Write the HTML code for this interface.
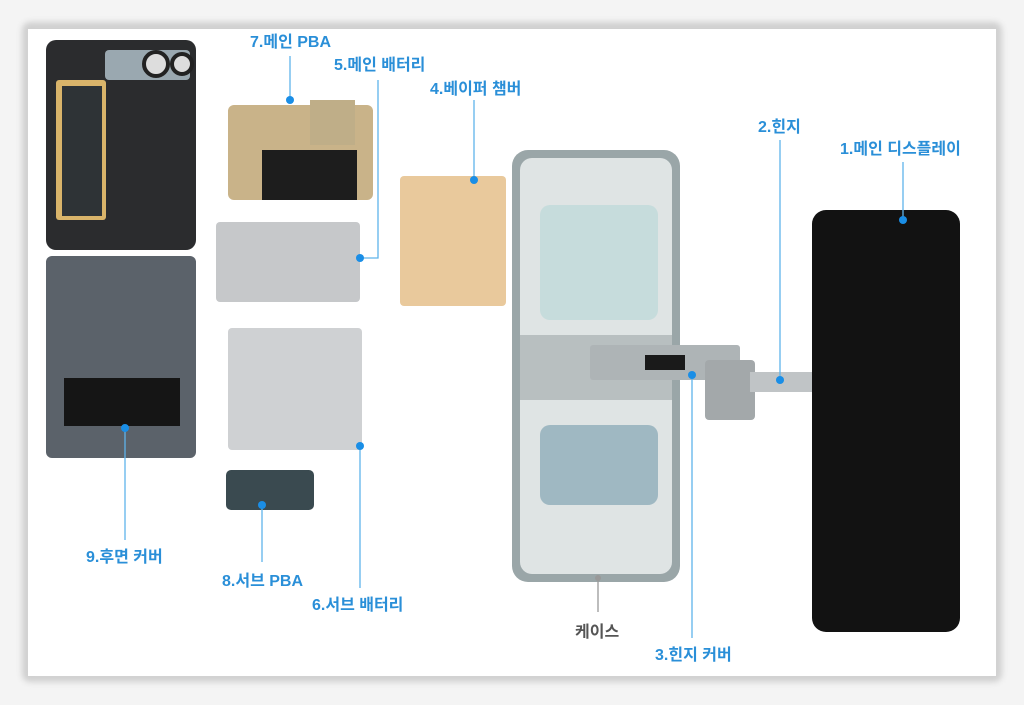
<!DOCTYPE html>
<html><head><meta charset="utf-8"><style>
body{margin:0;width:1024px;height:705px;background:#f4f4f4;position:relative;overflow:hidden;font-family:"Liberation Sans","Noto Sans CJK KR",sans-serif}
.frame{position:absolute;left:22px;top:22px;width:980px;height:660px;background:#d0d0d0;border-radius:8px;filter:blur(3px)}
.img{position:absolute;left:28px;top:29px;width:968px;height:647px;background:#fff}
.a{position:absolute}
.l{position:absolute;color:#2a8fd8;font-size:16px;font-weight:bold;white-space:nowrap;letter-spacing:0}
</style></head><body>
<div class="frame"></div>
<div class="img"></div>
<div class="a" style="left:46px;top:40px;width:150px;height:210px;background:#2b2c2e;border-radius:10px"></div>
<div class="a" style="left:56px;top:80px;width:50px;height:140px;background:#d9b46a;border-radius:3px"></div>
<div class="a" style="left:62px;top:86px;width:40px;height:130px;background:#2e3336"></div>
<div class="a" style="left:105px;top:50px;width:85px;height:30px;background:#9aa8b0;border-radius:4px"></div>
<div class="a" style="left:142px;top:50px;width:20px;height:20px;border:4px solid #222;border-radius:50%;background:#ddd"></div>
<div class="a" style="left:170px;top:52px;width:16px;height:16px;border:4px solid #222;border-radius:50%;background:#ddd"></div>
<div class="a" style="left:46px;top:256px;width:150px;height:202px;background:#5b626a;border-radius:6px"></div>
<div class="a" style="left:64px;top:378px;width:116px;height:48px;background:#151515"></div>
<div class="a" style="left:228px;top:105px;width:145px;height:95px;background:#c9b389;border-radius:6px"></div>
<div class="a" style="left:262px;top:150px;width:95px;height:50px;background:#1d1d1d"></div>
<div class="a" style="left:310px;top:100px;width:45px;height:45px;background:#bfae88"></div>
<div class="a" style="left:216px;top:222px;width:144px;height:80px;background:#c6c8ca;border-radius:4px"></div>
<div class="a" style="left:228px;top:328px;width:134px;height:122px;background:#cfd1d3;border-radius:4px"></div>
<div class="a" style="left:226px;top:470px;width:88px;height:40px;background:#3a4a50;border-radius:5px"></div>
<div class="a" style="left:400px;top:176px;width:106px;height:130px;background:#e9c99c;border-radius:4px"></div>
<div class="a" style="left:512px;top:150px;width:168px;height:432px;background:#9aa6a8;border-radius:16px"></div>
<div class="a" style="left:520px;top:158px;width:152px;height:416px;background:#dfe4e4;border-radius:12px"></div>
<div class="a" style="left:540px;top:205px;width:118px;height:115px;background:#c6dcdc;border-radius:10px"></div>
<div class="a" style="left:520px;top:335px;width:152px;height:65px;background:#b8bfc0"></div>
<div class="a" style="left:540px;top:425px;width:118px;height:80px;background:#9fb8c2;border-radius:10px"></div>
<div class="a" style="left:590px;top:345px;width:150px;height:35px;background:#aeb4b6;border-radius:3px"></div>
<div class="a" style="left:645px;top:355px;width:40px;height:15px;background:#1a1a1a"></div>
<div class="a" style="left:705px;top:360px;width:50px;height:60px;background:#a3a8aa;border-radius:4px"></div>
<div class="a" style="left:750px;top:372px;width:62px;height:20px;background:#c0c4c6"></div>
<div class="a" style="left:812px;top:210px;width:148px;height:422px;background:#121212;border-radius:14px"></div>
<svg class="a" style="left:0;top:0" width="1024" height="705">
<g stroke="#5fb3ea" stroke-width="1.3" fill="none">
<path d="M290 56V100"/><path d="M378 80V258H360"/><path d="M474 100V180"/><path d="M780 140V380"/><path d="M903 162V220"/>
<path d="M125 428V540"/><path d="M262 505V562"/><path d="M360 446V588"/><path d="M598 578V612" stroke="#999"/><path d="M692 375V638"/>
</g>
<g fill="#1a8ee6">
<circle cx="290" cy="100" r="4"/><circle cx="360" cy="258" r="4"/><circle cx="474" cy="180" r="4"/><circle cx="780" cy="380" r="4"/><circle cx="903" cy="220" r="4"/>
<circle cx="125" cy="428" r="4"/><circle cx="262" cy="505" r="4"/><circle cx="360" cy="446" r="4"/><circle cx="692" cy="375" r="4"/>
</g>
<circle cx="598" cy="578" r="3" fill="#999"/>
</svg>
<div class="l" style="left:250px;top:28px">7.메인 PBA</div>
<div class="l" style="left:334px;top:51px">5.메인 배터리</div>
<div class="l" style="left:430px;top:75px">4.베이퍼 챔버</div>
<div class="l" style="left:758px;top:113px">2.힌지</div>
<div class="l" style="left:840px;top:135px">1.메인 디스플레이</div>
<div class="l" style="left:86px;top:543px">9.후면 커버</div>
<div class="l" style="left:222px;top:567px">8.서브 PBA</div>
<div class="l" style="left:312px;top:591px">6.서브 배터리</div>
<div class="l" style="left:575px;top:618px;color:#555">케이스</div>
<div class="l" style="left:655px;top:641px">3.힌지 커버</div>
</body></html>
